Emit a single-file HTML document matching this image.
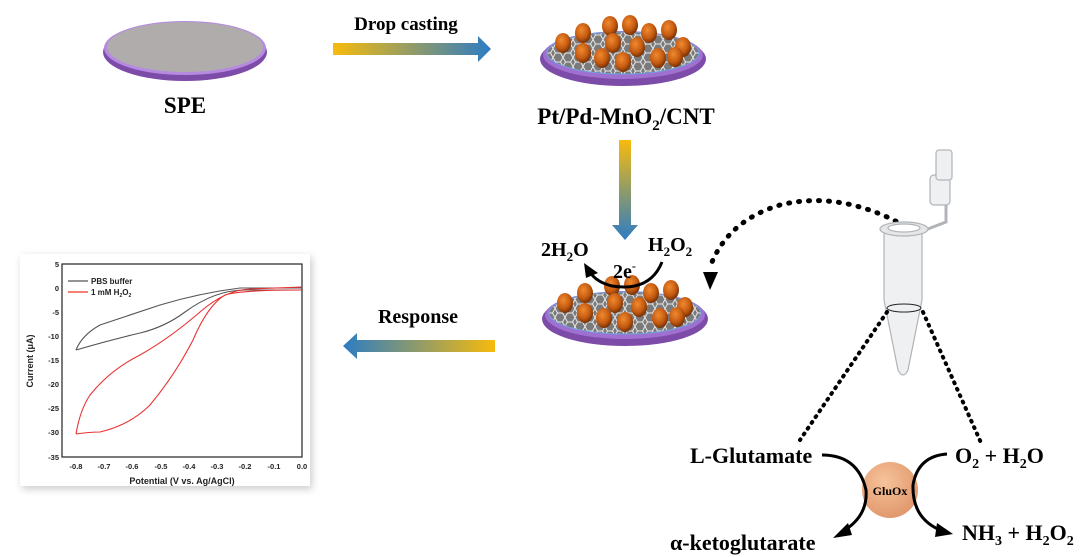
<!DOCTYPE html>
<html><head><meta charset="utf-8"><style>
html,body{margin:0;padding:0;background:#fff;}
svg{display:block;font-family:"Liberation Serif",serif;font-weight:bold;}
</style></head><body>
<svg width="1091" height="557" viewBox="0 0 1091 557" xmlns="http://www.w3.org/2000/svg">
<defs>
<linearGradient id="gr" x1="0" x2="1" y1="0" y2="0"><stop offset="0" stop-color="#f7bb0c"/><stop offset="1" stop-color="#2c7cc4"/></linearGradient>
<linearGradient id="gl" x1="1" x2="0" y1="0" y2="0"><stop offset="0" stop-color="#f7bb0c"/><stop offset="1" stop-color="#2c7cc4"/></linearGradient>
<linearGradient id="gd" x1="0" x2="0" y1="0" y2="1"><stop offset="0" stop-color="#f7bb0c"/><stop offset="1" stop-color="#2c7cc4"/></linearGradient>
<radialGradient id="ball" cx="0.4" cy="0.35" r="0.7"><stop offset="0" stop-color="#f08a30"/><stop offset="0.6" stop-color="#c45a10"/><stop offset="1" stop-color="#6a2a05"/></radialGradient>
<radialGradient id="glu" cx="0.4" cy="0.35" r="0.7"><stop offset="0" stop-color="#f7c39a"/><stop offset="1" stop-color="#e0956a"/></radialGradient>
<pattern id="hex" width="10" height="9" patternUnits="userSpaceOnUse"><rect width="10" height="9" fill="#7a7a7a"/><path d="M0 4.5 L2.5 0 L7.5 0 L10 4.5 L7.5 9 L2.5 9 Z" fill="none" stroke="#e8e8e8" stroke-width="1"/></pattern>
<g id="balls">
<ellipse cx="-13" cy="-27" rx="8" ry="10" fill="url(#ball)"/><ellipse cx="7" cy="-28" rx="8" ry="10" fill="url(#ball)"/><ellipse cx="-40" cy="-20" rx="8" ry="10" fill="url(#ball)"/><ellipse cx="26" cy="-20" rx="8" ry="10" fill="url(#ball)"/><ellipse cx="46" cy="-23" rx="8" ry="10" fill="url(#ball)"/><ellipse cx="-60" cy="-10" rx="8" ry="10" fill="url(#ball)"/><ellipse cx="-10" cy="-10" rx="8" ry="10" fill="url(#ball)"/><ellipse cx="14" cy="-6" rx="8" ry="10" fill="url(#ball)"/><ellipse cx="60" cy="-6" rx="8" ry="10" fill="url(#ball)"/><ellipse cx="-40" cy="0" rx="8" ry="10" fill="url(#ball)"/><ellipse cx="-21" cy="5" rx="8" ry="10" fill="url(#ball)"/><ellipse cx="0" cy="9" rx="8" ry="10" fill="url(#ball)"/><ellipse cx="35" cy="5" rx="8" ry="10" fill="url(#ball)"/><ellipse cx="52" cy="4" rx="8" ry="10" fill="url(#ball)"/>
</g>
<g id="cnt">
<ellipse cx="0" cy="6" rx="83" ry="27" fill="#7d4ba8"/>
<ellipse cx="0" cy="2" rx="80" ry="24" fill="#a070d0"/>
<ellipse cx="0" cy="0" rx="76" ry="21" fill="url(#hex)" stroke="#6fa0e0" stroke-width="1"/>
<use href="#balls"/>
</g>
<filter id="sh" x="-10%" y="-10%" width="120%" height="120%"><feGaussianBlur stdDeviation="4"/></filter>
</defs>

<ellipse cx="185" cy="52" rx="82" ry="29" fill="#7d4ba8"/>
<ellipse cx="185" cy="48" rx="81" ry="27" fill="#b68ae0"/>
<ellipse cx="185" cy="47" rx="78" ry="25" fill="#b0acac"/>
<text x="185" y="113" font-size="23" text-anchor="middle">SPE</text>

<text x="406" y="30" font-size="19" text-anchor="middle">Drop casting</text>
<path d="M333 43 L478 43 L478 36 L491 49 L478 62 L478 55 L333 55 Z" fill="url(#gr)"/>

<use href="#cnt" transform="translate(623,53)"/>
<text x="626" y="124" font-size="23" text-anchor="middle">Pt/Pd-MnO<tspan font-size="15" dy="6">2</tspan><tspan dy="-6">/CNT</tspan></text>

<path d="M619 140 L631 140 L631 225 L638 225 L625 240 L612 225 L619 225 Z" fill="url(#gd)"/>

<use href="#cnt" transform="translate(625,313)"/>
<text x="541" y="256" font-size="20">2H<tspan font-size="13" dy="5">2</tspan><tspan dy="-5">O</tspan></text>
<text x="648" y="251" font-size="20">H<tspan font-size="13" dy="5">2</tspan><tspan dy="-5">O</tspan><tspan font-size="13" dy="5">2</tspan></text>
<text x="613" y="278" font-size="20">2e<tspan font-size="12" dy="-8">-</tspan></text>
<path d="M662 262 Q650 292 612 286 Q596 282 590 272" fill="none" stroke="#000" stroke-width="3"/>
<path d="M584 263 L598 273 L586 278 Z" fill="#000"/>

<path d="M905 226 Q840 190 780 205 Q730 220 712 262" fill="none" stroke="#000" stroke-width="5" stroke-dasharray="1 9" stroke-linecap="round"/>
<path d="M703 272 L718 272 L710 290 Z" fill="#000"/>

<text x="418" y="323" font-size="20" text-anchor="middle">Response</text>
<path d="M495 340 L357 340 L357 333 L343 346 L357 359 L357 352 L495 352 Z" fill="url(#gl)"/>

<rect x="22" y="257" width="290" height="232" fill="#999" filter="url(#sh)" opacity="0.5"/>
<rect x="20" y="254" width="290" height="232" fill="#fff"/>
<g font-family="Liberation Sans, sans-serif" font-weight="bold" font-size="7.5" fill="#222">
<rect x="62" y="264" width="240" height="193" fill="none" stroke="#222" stroke-width="1.2"/>
<g text-anchor="end">
<text x="59" y="267">5</text><text x="59" y="291">0</text><text x="59" y="315">-5</text><text x="59" y="339">-10</text><text x="59" y="363">-15</text><text x="59" y="387">-20</text><text x="59" y="411">-25</text><text x="59" y="435">-30</text><text x="59" y="460">-35</text>
</g>
<g text-anchor="middle">
<text x="76" y="469">-0.8</text><text x="104" y="469">-0.7</text><text x="132" y="469">-0.6</text><text x="161" y="469">-0.5</text><text x="189" y="469">-0.4</text><text x="217" y="469">-0.3</text><text x="245" y="469">-0.2</text><text x="274" y="469">-0.1</text><text x="302" y="469">0.0</text>
<text x="182" y="484" font-size="9">Potential (V vs. Ag/AgCl)</text>
</g>
<text transform="translate(33,361) rotate(-90)" text-anchor="middle" font-size="9">Current (μA)</text>
<line x1="68" y1="281" x2="88" y2="281" stroke="#555" stroke-width="1.2"/>
<text x="91" y="284" font-size="8">PBS buffer</text>
<line x1="68" y1="292" x2="88" y2="292" stroke="#e32" stroke-width="1.2"/>
<text x="91" y="295" font-size="8">1 mM H<tspan font-size="5" dy="2">2</tspan><tspan dy="-2">O</tspan><tspan font-size="5" dy="2">2</tspan></text>
</g>
<path d="M76 350 Q82 335 100 325 Q130 315 160 305 Q200 293 240 288 L302 288 M76 350 Q110 340 140 333 Q165 327 185 312 Q215 290 245 290 L302 290" fill="none" stroke="#555" stroke-width="1.1"/>
<path d="M76 434 Q80 410 90 395 Q110 370 140 355 Q170 338 200 312 Q225 290 250 289 L302 287 M76 434 Q90 432 100 432 Q130 425 150 405 Q175 375 193 340 Q208 305 225 295 Q240 290 302 290" fill="none" stroke="#e83232" stroke-width="1.1"/>

<g fill="#eef0f2" stroke="#b0b4b8" stroke-width="1.2">
<path d="M884 230 L884 300 L898 370 Q903 380 908 370 L922 300 L922 230 Z"/>
<path d="M920 232 L946 222 L946 200" fill="none" stroke-width="3"/>
<rect x="930" y="175" width="20" height="30" rx="4"/>
<rect x="936" y="150" width="16" height="30" rx="3"/>
<ellipse cx="904" cy="229" rx="24" ry="7" fill="#e4e6e8"/>
<ellipse cx="904" cy="228" rx="16" ry="4" fill="#fff"/>
</g>
<ellipse cx="904" cy="308" rx="17" ry="4" fill="none" stroke="#222" stroke-width="1"/>
<path d="M887 312 L800 440" stroke="#000" stroke-width="4" stroke-dasharray="1 6" stroke-linecap="round"/>
<path d="M923 312 L982 445" stroke="#000" stroke-width="4" stroke-dasharray="1 6" stroke-linecap="round"/>

<circle cx="890" cy="490" r="28" fill="url(#glu)"/>
<text x="890" y="495" font-size="12" text-anchor="middle">GluOx</text>
<text x="690" y="463" font-size="22">L-Glutamate</text>
<text x="955" y="463" font-size="22">O<tspan font-size="14" dy="5">2</tspan><tspan dy="-5"> + H</tspan><tspan font-size="14" dy="5">2</tspan><tspan dy="-5">O</tspan></text>
<text x="670" y="550" font-size="22">α-ketoglutarate</text>
<text x="962" y="540" font-size="22">NH<tspan font-size="14" dy="5">3</tspan><tspan dy="-5"> + H</tspan><tspan font-size="14" dy="5">2</tspan><tspan dy="-5">O</tspan><tspan font-size="14" dy="5">2</tspan></text>
<path d="M822 455 Q858 455 866 490 Q868 515 845 530" fill="none" stroke="#000" stroke-width="3"/>
<path d="M833 538 L848 523 L852 535 Z" fill="#000"/>
<path d="M947 454 Q918 456 913 485 Q912 518 940 530" fill="none" stroke="#000" stroke-width="3"/>
<path d="M953 534 L937 523 L935 537 Z" fill="#000"/>
</svg>
</body></html>
